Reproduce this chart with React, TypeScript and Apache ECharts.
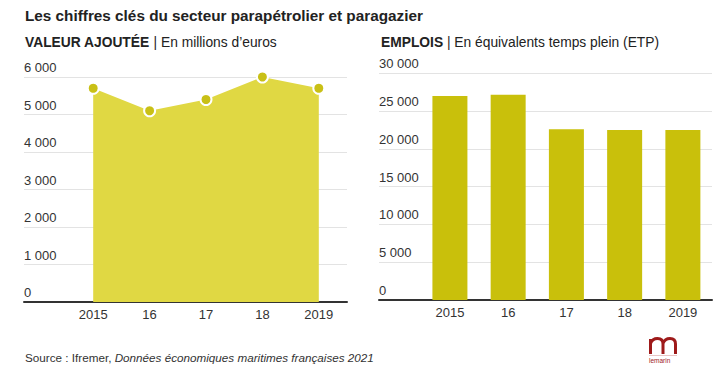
import React, { useEffect, useRef } from "react";
import * as echarts from "echarts";

const years = ["2015", "16", "17", "18", "2019"];
const valeurAjoutee = [5700, 5100, 5400, 6000, 5700];
const emplois = [27000, 27150, 22600, 22500, 22500];
const leftTicks = { min: 0, max: 6000, interval: 1000 };
const rightTicks = { min: 0, max: 30000, interval: 5000 };

const FONT = "'Liberation Sans', Arial, sans-serif";
const TXT = "#333333";
const fmt = (v: number) => String(v).replace(/\B(?=(\d{3})+(?!\d))/g, " ");

const M_PATH =
  "M1.5 16 L1.5 1 M1.5 5.5 C3 1.5 6 0.5 8.5 0.5 C12 0.5 14 2.5 14 6 L14 16 M14 5.5 C15.5 1.5 18.5 0.5 21 0.5 C24.5 0.5 26.5 2.5 26.5 6 L26.5 16";
let registered = false;

export default function App() {
  const ref = useRef<HTMLDivElement>(null);
  useEffect(() => {
    if (!ref.current) return;
    if (!registered) {
      echarts.graphic.registerShape("logoM", echarts.graphic.extendPath(M_PATH, {}));
      registered = true;
    }
    const chart = echarts.init(ref.current, undefined, { renderer: "svg" });
    const gridAxisY = (t: any, gi: number) => ({
      type: "value",
      gridIndex: gi,
      min: t.min,
      max: t.max,
      interval: t.interval,
      axisLine: { show: false },
      axisTick: { show: false },
      splitLine: { lineStyle: { color: "#e3e3e3", width: 1 } },
      axisLabel: {
        inside: true,
        margin: 0,
        verticalAlign: "bottom",
        padding: [0, 0, 3, 0],
        color: TXT,
        fontFamily: FONT,
        fontSize: 13,
        formatter: (v: number) => fmt(v),
      },
    });
    const dataAxisY = (t: any, gi: number) => ({
      type: "value",
      gridIndex: gi,
      min: t.min,
      max: t.max,
      interval: t.interval,
      show: false,
      splitLine: { show: false },
    });
    const baseX = (gi: number) => ({
      type: "value",
      gridIndex: gi,
      min: 0,
      max: 1,
      axisLine: { show: true, lineStyle: { color: "#333", width: 2 } },
      axisTick: { show: false },
      axisLabel: { show: false },
      splitLine: { show: false },
    });
    const catX = (gi: number) => ({
      type: "category",
      gridIndex: gi,
      data: years,
      boundaryGap: true,
      axisLine: { show: false },
      axisTick: { show: false },
      axisLabel: { color: TXT, fontFamily: FONT, fontSize: 13, margin: 6 },
    });
    const subStyle = {
      fontFamily: FONT,
      fontSize: 13.8,
      fontWeight: "normal",
      color: "#222",
      rich: { b: { fontFamily: FONT, fontSize: 13.8, fontWeight: "bold", color: "#222" } },
    };
    chart.setOption({
      animation: false,
      backgroundColor: "#ffffff",
      title: [
        {
          text: "Les chiffres clés du secteur parapétrolier et paragazier",
          left: 25,
          top: 8,
          padding: 0,
          textStyle: { fontFamily: FONT, fontSize: 15.3, fontWeight: "bold", color: "#222" },
        },
        {
          text: "{b|VALEUR AJOUTÉE} | En millions d’euros",
          left: 25,
          top: 35,
          padding: 0,
          textStyle: subStyle,
        },
        {
          text: "{b|EMPLOIS} | En équivalents temps plein (ETP)",
          left: 381,
          top: 35,
          padding: 0,
          textStyle: subStyle,
        },
        {
          text: "Source : Ifremer, {i|Données économiques maritimes françaises 2021}",
          left: 25,
          top: 351,
          padding: 0,
          textStyle: {
            fontFamily: FONT,
            fontSize: 11.7,
            fontWeight: "normal",
            color: TXT,
            rich: { i: { fontFamily: FONT, fontSize: 11.7, fontStyle: "italic", color: TXT } },
          },
        },
      ],
      grid: [
        { left: 24, right: 380, top: 77, bottom: 72 },
        { left: 65, right: 380, top: 77, bottom: 72 },
        { left: 379, right: 15, top: 73.3, bottom: 74 },
        { left: 420.8, right: 15, top: 73.3, bottom: 74 },
      ],
      xAxis: [baseX(0), catX(1), baseX(2), catX(3)],
      yAxis: [
        gridAxisY(leftTicks, 0),
        dataAxisY(leftTicks, 1),
        gridAxisY(rightTicks, 2),
        dataAxisY(rightTicks, 3),
      ],
      series: [
        {
          type: "line",
          xAxisIndex: 1,
          yAxisIndex: 1,
          data: valeurAjoutee,
          symbol: "circle",
          symbolSize: 11,
          showSymbol: true,
          lineStyle: { width: 0, color: "#e0d843" },
          areaStyle: { color: "#e0d843", opacity: 1 },
          itemStyle: { color: "#c9c016", borderColor: "#ffffff", borderWidth: 2 },
          z: 1,
        },
        {
          type: "bar",
          xAxisIndex: 3,
          yAxisIndex: 3,
          data: emplois,
          barWidth: 35,
          itemStyle: { color: "#c9c00b" },
          z: 1,
        },
      ],
      graphic: [
        {
          type: "logoM",
          x: 649,
          y: 338,
          scaleX: 1,
          scaleY: 1,
          style: { fill: "none", stroke: "#9e1a1a", lineWidth: 3 },
        },
        {
          type: "line",
          shape: { x1: 649, y1: 355.5, x2: 677, y2: 355.5 },
          style: { stroke: "#d8a0a0", lineWidth: 0.6 },
        },
        {
          type: "text",
          x: 649,
          y: 356.5,
          style: { text: "lemarin", fontFamily: FONT, fontSize: 6.5, fill: "#9e1a1a" },
        },
      ],
    });
    return () => chart.dispose();
  }, []);
  return (
    <div
      ref={ref}
      style={{ position: "absolute", left: 0, top: 0, width: 727, height: 374 }}
    />
  );
}
